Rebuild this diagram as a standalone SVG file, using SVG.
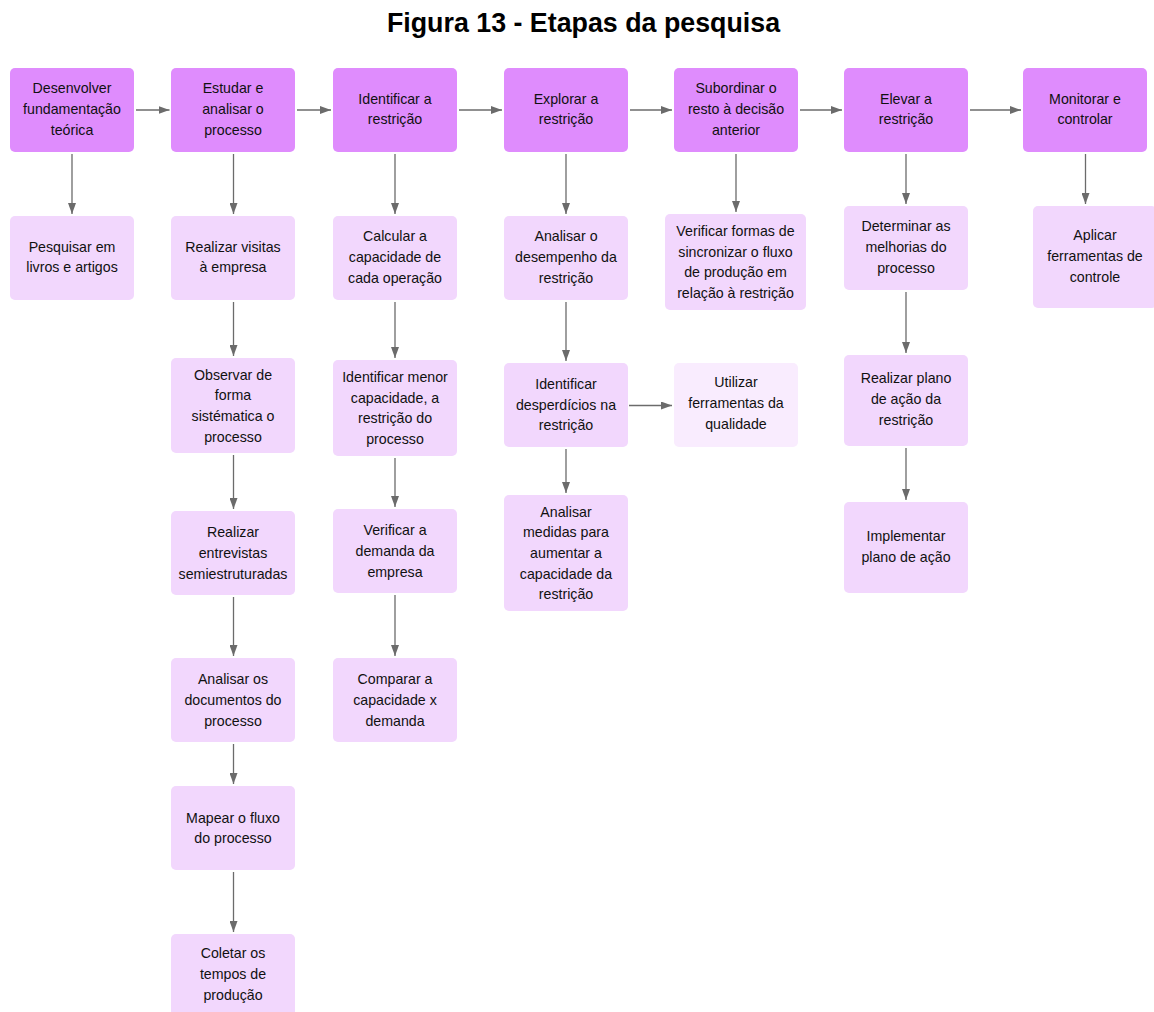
<svg xmlns="http://www.w3.org/2000/svg" width="1154" height="1012" viewBox="0 0 1154 1012">
<defs>
<style>
.h{fill:#DF8CFD}
.l{fill:#F2D7FD}
.u{fill:#F9ECFE}
text{font-family:"Liberation Sans",Arial,sans-serif;font-size:14.2px;fill:#111;text-anchor:middle}
.title{font-size:26.8px;font-weight:bold;fill:#000}
.c line{stroke:#6b6b6b;stroke-width:1.3;marker-end:url(#ah)}
</style>
<marker id="ah" viewBox="0 0 11 8" refX="11" refY="4" markerWidth="11" markerHeight="8" markerUnits="userSpaceOnUse" orient="auto">
<path d="M0,0 L11,4 L0,8 z" fill="#6b6b6b"/>
</marker>
</defs>
<rect width="1154" height="1012" fill="#fff"/>
<text class="title" x="583.5" y="31.5">Figura 13 - Etapas da pesquisa</text>

<g class="c" id="connectors">
<line x1="136" y1="110" x2="169.5" y2="110"/>
<line x1="297" y1="110" x2="331" y2="110"/>
<line x1="459" y1="110" x2="502" y2="110"/>
<line x1="630" y1="110" x2="672" y2="110"/>
<line x1="800" y1="110" x2="842" y2="110"/>
<line x1="970" y1="110" x2="1021" y2="110"/>
<line x1="72" y1="154" x2="72" y2="214"/>
<line x1="233.5" y1="154" x2="233.5" y2="214"/>
<line x1="233.5" y1="302" x2="233.5" y2="356"/>
<line x1="233.5" y1="455" x2="233.5" y2="509"/>
<line x1="233.5" y1="597" x2="233.5" y2="656"/>
<line x1="233.5" y1="744" x2="233.5" y2="784"/>
<line x1="233.5" y1="872" x2="233.5" y2="932"/>
<line x1="395" y1="154" x2="395" y2="214"/>
<line x1="395" y1="302" x2="395" y2="358"/>
<line x1="395" y1="458" x2="395" y2="507"/>
<line x1="395" y1="595" x2="395" y2="656"/>
<line x1="566" y1="154" x2="566" y2="214"/>
<line x1="566" y1="302" x2="566" y2="361"/>
<line x1="566" y1="449" x2="566" y2="493"/>
<line x1="629" y1="405.5" x2="672" y2="405.5"/>
<line x1="736" y1="154" x2="736" y2="212"/>
<line x1="906" y1="154" x2="906" y2="204"/>
<line x1="906" y1="292" x2="906" y2="353"/>
<line x1="906" y1="448" x2="906" y2="500"/>
<line x1="1085.5" y1="154" x2="1085.5" y2="204"/>
</g>

<g id="h1"><rect class="h" x="10" y="68" width="124" height="84" rx="5"/>
<text x="72"><tspan x="72" y="93.3">Desenvolver</tspan><tspan x="72" y="114">fundamentação</tspan><tspan x="72" y="134.7">teórica</tspan></text></g>
<g id="h2"><rect class="h" x="171" y="68" width="124" height="84" rx="5"/>
<text x="233"><tspan x="233" y="93.3">Estudar e</tspan><tspan x="233" y="114">analisar o</tspan><tspan x="233" y="134.7">processo</tspan></text></g>
<g id="h3"><rect class="h" x="333" y="68" width="124" height="84" rx="5"/>
<text x="395"><tspan x="395" y="103.7">Identificar a</tspan><tspan x="395" y="124.4">restrição</tspan></text></g>
<g id="h4"><rect class="h" x="504" y="68" width="124" height="84" rx="5"/>
<text x="566"><tspan x="566" y="103.7">Explorar a</tspan><tspan x="566" y="124.4">restrição</tspan></text></g>
<g id="h5"><rect class="h" x="674" y="68" width="124" height="84" rx="5"/>
<text x="736"><tspan x="736" y="93.3">Subordinar o</tspan><tspan x="736" y="114">resto à decisão</tspan><tspan x="736" y="134.7">anterior</tspan></text></g>
<g id="h6"><rect class="h" x="844" y="68" width="124" height="84" rx="5"/>
<text x="906"><tspan x="906" y="103.7">Elevar a</tspan><tspan x="906" y="124.4">restrição</tspan></text></g>
<g id="h7"><rect class="h" x="1023" y="68" width="124" height="84" rx="5"/>
<text x="1085"><tspan x="1085" y="103.7">Monitorar e</tspan><tspan x="1085" y="124.4">controlar</tspan></text></g>

<g id="n1"><rect class="l" x="10" y="216" width="124" height="84" rx="5"/>
<text x="72"><tspan x="72" y="251.7">Pesquisar em</tspan><tspan x="72" y="272.4">livros e artigos</tspan></text></g>

<g id="a1"><rect class="l" x="171" y="216" width="124" height="84" rx="5"/>
<text x="233"><tspan x="233" y="251.7">Realizar visitas</tspan><tspan x="233" y="272.4">à empresa</tspan></text></g>
<g id="a2"><rect class="l" x="171" y="358" width="124" height="95" rx="5"/>
<text x="233"><tspan x="233" y="379.5">Observar de</tspan><tspan x="233" y="400.2">forma</tspan><tspan x="233" y="420.9">sistématica o</tspan><tspan x="233" y="441.6">processo</tspan></text></g>
<g id="a3"><rect class="l" x="171" y="511" width="124" height="84" rx="5"/>
<text x="233"><tspan x="233" y="537.3">Realizar</tspan><tspan x="233" y="558">entrevistas</tspan><tspan x="233" y="578.7">semiestruturadas</tspan></text></g>
<g id="a4"><rect class="l" x="171" y="658" width="124" height="84" rx="5"/>
<text x="233"><tspan x="233" y="684.3">Analisar os</tspan><tspan x="233" y="705">documentos do</tspan><tspan x="233" y="725.7">processo</tspan></text></g>
<g id="a5"><rect class="l" x="171" y="786" width="124" height="84" rx="5"/>
<text x="233"><tspan x="233" y="822.7">Mapear o fluxo</tspan><tspan x="233" y="843.4">do processo</tspan></text></g>
<g id="a6"><rect class="l" x="171" y="934" width="124" height="90" rx="5"/>
<text x="233"><tspan x="233" y="958.3">Coletar os</tspan><tspan x="233" y="979">tempos de</tspan><tspan x="233" y="999.7">produção</tspan></text></g>

<g id="b1"><rect class="l" x="333" y="216" width="124" height="84" rx="5"/>
<text x="395"><tspan x="395" y="241.3">Calcular a</tspan><tspan x="395" y="262">capacidade de</tspan><tspan x="395" y="282.7">cada operação</tspan></text></g>
<g id="b2"><rect class="l" x="333" y="360" width="124" height="96" rx="5"/>
<text x="395"><tspan x="395" y="382">Identificar menor</tspan><tspan x="395" y="402.7">capacidade, a</tspan><tspan x="395" y="423.4">restrição do</tspan><tspan x="395" y="444.1">processo</tspan></text></g>
<g id="b3"><rect class="l" x="333" y="509" width="124" height="84" rx="5"/>
<text x="395"><tspan x="395" y="535.3">Verificar a</tspan><tspan x="395" y="556">demanda da</tspan><tspan x="395" y="576.7">empresa</tspan></text></g>
<g id="b4"><rect class="l" x="333" y="658" width="124" height="84" rx="5"/>
<text x="395"><tspan x="395" y="684.3">Comparar a</tspan><tspan x="395" y="705">capacidade x</tspan><tspan x="395" y="725.7">demanda</tspan></text></g>

<g id="d1"><rect class="l" x="504" y="216" width="124" height="84" rx="5"/>
<text x="566"><tspan x="566" y="241.3">Analisar o</tspan><tspan x="566" y="262">desempenho da</tspan><tspan x="566" y="282.7">restrição</tspan></text></g>
<g id="d2"><rect class="l" x="504" y="363" width="124" height="84" rx="5"/>
<text x="566"><tspan x="566" y="388.8">Identificar</tspan><tspan x="566" y="409.5">desperdícios na</tspan><tspan x="566" y="430.2">restrição</tspan></text></g>
<g id="d3"><rect class="l" x="504" y="495" width="124" height="116" rx="5"/>
<text x="566"><tspan x="566" y="516.6">Analisar</tspan><tspan x="566" y="537.3">medidas para</tspan><tspan x="566" y="558">aumentar a</tspan><tspan x="566" y="578.7">capacidade da</tspan><tspan x="566" y="599.4">restrição</tspan></text></g>
<g id="u1"><rect class="u" x="674" y="363" width="124" height="84" rx="5"/>
<text x="736"><tspan x="736" y="387.3">Utilizar</tspan><tspan x="736" y="408">ferramentas da</tspan><tspan x="736" y="428.7">qualidade</tspan></text></g>

<g id="e1"><rect class="l" x="665" y="214" width="141" height="96" rx="5"/>
<text x="735.5"><tspan x="735.5" y="236">Verificar formas de</tspan><tspan x="735.5" y="256.7">sincronizar o fluxo</tspan><tspan x="735.5" y="277.4">de produção em</tspan><tspan x="735.5" y="298.1">relação à restrição</tspan></text></g>

<g id="f1"><rect class="l" x="844" y="206" width="124" height="84" rx="5"/>
<text x="906"><tspan x="906" y="231.3">Determinar as</tspan><tspan x="906" y="252">melhorias do</tspan><tspan x="906" y="272.7">processo</tspan></text></g>
<g id="f2"><rect class="l" x="844" y="355" width="124" height="91" rx="5"/>
<text x="906"><tspan x="906" y="383.3">Realizar plano</tspan><tspan x="906" y="404">de ação da</tspan><tspan x="906" y="424.7">restrição</tspan></text></g>
<g id="f3"><rect class="l" x="844" y="502" width="124" height="91" rx="5"/>
<text x="906"><tspan x="906" y="541">Implementar</tspan><tspan x="906" y="561.7">plano de ação</tspan></text></g>

<g id="g1"><rect class="l" x="1033" y="206" width="124" height="102" rx="5"/>
<text x="1095"><tspan x="1095" y="240.3">Aplicar</tspan><tspan x="1095" y="261">ferramentas de</tspan><tspan x="1095" y="281.7">controle</tspan></text></g>
</svg>
